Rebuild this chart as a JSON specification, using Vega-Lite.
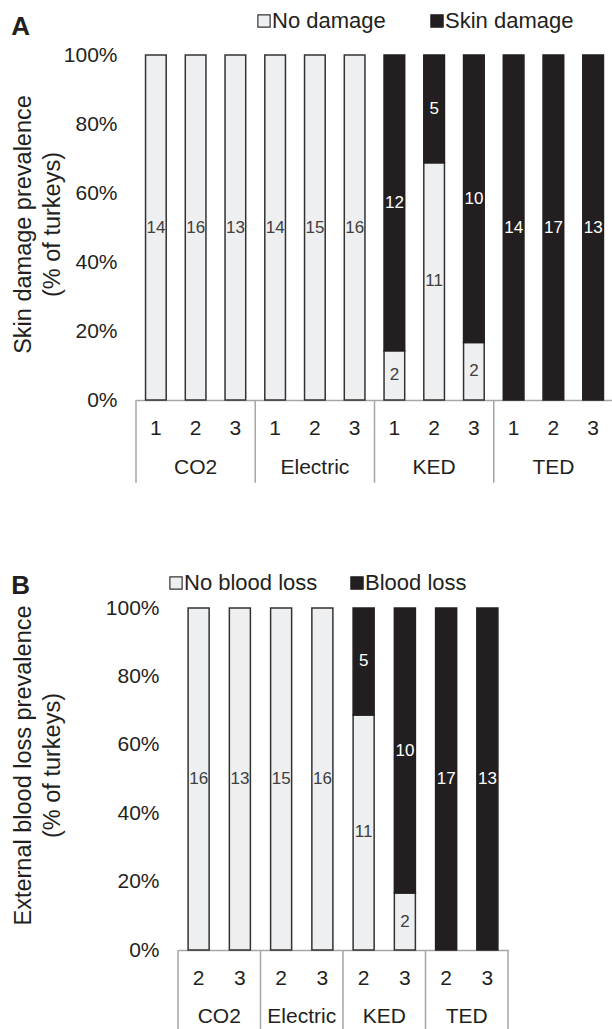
{
  "$schema": "https://vega.github.io/schema/vega-lite/v6.json",
  "padding": {"left": 11, "top": 10, "right": 0, "bottom": 0},
  "background": "white",
  "config": {
    "font": "Liberation Sans",
    "view": {"stroke": null},
    "axis": {"labelColor": "#231f20", "titleColor": "#231f20", "labelFont": "Liberation Sans", "titleFont": "Liberation Sans", "titleFontWeight": "normal"},
    "legend": {"labelColor": "#231f20", "labelFont": "Liberation Sans"},
    "title": {"color": "#231f20", "font": "Liberation Sans"}
  },
  "resolve": {"scale": {"fill": "independent", "stroke": "independent"}, "legend": {"fill": "independent", "stroke": "independent"}},
  "spacing": 88,
  "vconcat": [
    {
      "title": {"text": "A", "anchor": "start", "frame": "bounds", "fontSize": 26, "fontWeight": "bold", "offset": -30},
      "width": 477,
      "height": 345,
      "layer": [
        {
          "data": {"values": [
            {"k": "CO2-1", "s": "No damage", "n": 14},
            {"k": "CO2-2", "s": "No damage", "n": 16},
            {"k": "CO2-3", "s": "No damage", "n": 13},
            {"k": "Electric-1", "s": "No damage", "n": 14},
            {"k": "Electric-2", "s": "No damage", "n": 15},
            {"k": "Electric-3", "s": "No damage", "n": 16},
            {"k": "KED-1", "s": "No damage", "n": 2},
            {"k": "KED-1", "s": "Skin damage", "n": 12},
            {"k": "KED-2", "s": "No damage", "n": 11},
            {"k": "KED-2", "s": "Skin damage", "n": 5},
            {"k": "KED-3", "s": "No damage", "n": 2},
            {"k": "KED-3", "s": "Skin damage", "n": 10},
            {"k": "TED-1", "s": "Skin damage", "n": 14},
            {"k": "TED-2", "s": "Skin damage", "n": 17},
            {"k": "TED-3", "s": "Skin damage", "n": 13}
          ]},
          "layer": [
            {
              "mark": {"type": "bar", "width": {"band": 0.52}, "strokeWidth": 1.5},
              "encoding": {
                "x": {"field": "k", "type": "nominal", "sort": ["CO2-1","CO2-2","CO2-3","Electric-1","Electric-2","Electric-3","KED-1","KED-2","KED-3","TED-1","TED-2","TED-3"],
                  "scale": {"paddingInner": 0, "paddingOuter": 0},
                  "axis": {"title": null, "ticks": false, "domainColor": "#a6a6a6", "domainWidth": 1.5, "labelAngle": 0, "labelFontSize": 21, "labelPadding": 17, "labelExpr": "split(datum.label, '-')[1]"}},
                "y": {"field": "n", "type": "quantitative", "stack": "normalize", "scale": {"domain": [0, 1]},
                  "axis": {"values": [0, 0.2, 0.4, 0.6, 0.8, 1], "format": ".0%", "domain": false, "ticks": false, "grid": false, "labelFontSize": 21, "labelPadding": 19,
                    "title": ["Skin damage prevalence", "(% of turkeys)"], "titleFontSize": 23.5, "titlePadding": -1, "titleLineHeight": 29, "titleY": 169}},
                "order": {"field": "s", "sort": "ascending"},
                "fill": {"field": "s", "type": "nominal", "scale": {"domain": ["No damage", "Skin damage"], "range": ["#eeeff1", "#231f20"]},
                  "legend": {"orient": "none", "legendX": 117, "legendY": -45, "direction": "horizontal", "gridAlign": "none", "title": null, "symbolType": "square", "symbolSize": 150, "symbolStrokeColor": "#333333", "symbolStrokeWidth": 1.2, "labelFontSize": 22, "labelOffset": -3, "columnPadding": 40}},
                "stroke": {"field": "s", "type": "nominal", "scale": {"domain": ["No damage", "Skin damage"], "range": ["#333333", "#231f20"]}, "legend": null}
              }
            },
            {
              "mark": {"type": "text", "fontSize": 17, "baseline": "middle"},
              "encoding": {
                "x": {"field": "k", "type": "nominal", "sort": ["CO2-1","CO2-2","CO2-3","Electric-1","Electric-2","Electric-3","KED-1","KED-2","KED-3","TED-1","TED-2","TED-3"]},
                "y": {"field": "n", "type": "quantitative", "stack": "normalize", "bandPosition": 0.5},
                "order": {"field": "s", "sort": "ascending"},
                "detail": {"field": "s"},
                "text": {"field": "n"},
                "color": {"condition": {"test": "datum.s === 'No damage'", "value": "#404040"}, "value": "white"}
              }
            }
          ]
        },
        {
          "data": {"values": [{"k": "CO2-1"}, {"k": "Electric-1"}, {"k": "KED-1"}, {"k": "TED-1"}]},
          "mark": {"type": "rule", "color": "#a6a6a6", "strokeWidth": 1.5},
          "encoding": {
            "x": {"field": "k", "type": "nominal", "sort": ["CO2-1","CO2-2","CO2-3","Electric-1","Electric-2","Electric-3","KED-1","KED-2","KED-3","TED-1","TED-2","TED-3"], "bandPosition": 0},
            "y": {"datum": 0},
            "y2": {"datum": -0.24}
          }
        },
        {
          "data": {"values": [{"k": "CO2-2", "g": "CO2"}, {"k": "Electric-2", "g": "Electric"}, {"k": "KED-2", "g": "KED"}, {"k": "TED-2", "g": "TED"}]},
          "mark": {"type": "text", "fontSize": 21, "baseline": "middle", "color": "#231f20"},
          "encoding": {
            "x": {"field": "k", "type": "nominal", "sort": ["CO2-1","CO2-2","CO2-3","Electric-1","Electric-2","Electric-3","KED-1","KED-2","KED-3","TED-1","TED-2","TED-3"]},
            "y": {"datum": -0.196},
            "text": {"field": "g"}
          }
        }
      ]
    },
    {
      "title": {"text": "B", "anchor": "start", "frame": "bounds", "fontSize": 26, "fontWeight": "bold", "offset": -27},
      "width": 372,
      "height": 342,
      "layer": [
        {
          "data": {"values": [
            {"k": "CO2-2", "s": "No blood loss", "n": 16},
            {"k": "CO2-3", "s": "No blood loss", "n": 13},
            {"k": "Electric-2", "s": "No blood loss", "n": 15},
            {"k": "Electric-3", "s": "No blood loss", "n": 16},
            {"k": "KED-2", "s": "No blood loss", "n": 11},
            {"k": "KED-2", "s": "Blood loss", "n": 5},
            {"k": "KED-3", "s": "No blood loss", "n": 2},
            {"k": "KED-3", "s": "Blood loss", "n": 10},
            {"k": "TED-2", "s": "Blood loss", "n": 17},
            {"k": "TED-3", "s": "Blood loss", "n": 13}
          ]},
          "layer": [
            {
              "mark": {"type": "bar", "width": {"band": 0.51}, "strokeWidth": 1.5},
              "encoding": {
                "x": {"field": "k", "type": "nominal", "sort": ["CO2-2","CO2-3","Electric-2","Electric-3","KED-2","KED-3","TED-2","TED-3"],
                  "scale": {"paddingInner": 0, "paddingOuter": 0, "range": [42, 372]},
                  "axis": {"title": null, "ticks": false, "domainColor": "#a6a6a6", "domainWidth": 1.5, "labelAngle": 0, "labelFontSize": 21, "labelPadding": 17, "labelExpr": "split(datum.label, '-')[1]"}},
                "y": {"field": "n", "type": "quantitative", "stack": "normalize", "scale": {"domain": [0, 1]},
                  "axis": {"values": [0, 0.2, 0.4, 0.6, 0.8, 1], "format": ".0%", "domain": false, "ticks": false, "grid": false, "labelFontSize": 21, "labelPadding": 19, "offset": -42,
                    "title": ["External blood loss prevalence", "(% of turkeys)"], "titleFontSize": 23.5, "titlePadding": 41, "titleLineHeight": 29, "titleY": 157}},
                "order": {"field": "s", "sort": "descending"},
                "fill": {"field": "s", "type": "nominal", "scale": {"domain": ["No blood loss", "Blood loss"], "range": ["#eeeff1", "#231f20"]},
                  "legend": {"orient": "none", "legendX": 29, "legendY": -36, "direction": "horizontal", "gridAlign": "none", "title": null, "symbolType": "square", "symbolSize": 150, "symbolStrokeColor": "#333333", "symbolStrokeWidth": 1.2, "labelFontSize": 22, "labelOffset": -3, "columnPadding": 28}},
                "stroke": {"field": "s", "type": "nominal", "scale": {"domain": ["No blood loss", "Blood loss"], "range": ["#333333", "#231f20"]}, "legend": null}
              }
            },
            {
              "mark": {"type": "text", "fontSize": 17, "baseline": "middle"},
              "encoding": {
                "x": {"field": "k", "type": "nominal", "sort": ["CO2-2","CO2-3","Electric-2","Electric-3","KED-2","KED-3","TED-2","TED-3"]},
                "y": {"field": "n", "type": "quantitative", "stack": "normalize", "bandPosition": 0.5},
                "order": {"field": "s", "sort": "descending"},
                "detail": {"field": "s"},
                "text": {"field": "n"},
                "color": {"condition": {"test": "datum.s === 'No blood loss'", "value": "#404040"}, "value": "white"}
              }
            }
          ]
        },
        {
          "data": {"values": [{"k": "CO2-2"}, {"k": "Electric-2"}, {"k": "KED-2"}, {"k": "TED-2"}]},
          "mark": {"type": "rule", "color": "#a6a6a6", "strokeWidth": 1.5},
          "encoding": {
            "x": {"field": "k", "type": "nominal", "sort": ["CO2-2","CO2-3","Electric-2","Electric-3","KED-2","KED-3","TED-2","TED-3"], "bandPosition": 0},
            "y": {"datum": 0},
            "y2": {"datum": -0.233}
          }
        },
        {
          "data": {"values": [{"k": "TED-3"}]},
          "mark": {"type": "rule", "color": "#a6a6a6", "strokeWidth": 1.5},
          "encoding": {
            "x": {"field": "k", "type": "nominal", "sort": ["CO2-2","CO2-3","Electric-2","Electric-3","KED-2","KED-3","TED-2","TED-3"], "bandPosition": 1},
            "y": {"datum": 0},
            "y2": {"datum": -0.233}
          }
        },
        {
          "data": {"values": [{"k": "CO2-2", "g": "CO2"}, {"k": "Electric-2", "g": "Electric"}, {"k": "KED-2", "g": "KED"}, {"k": "TED-2", "g": "TED"}]},
          "mark": {"type": "text", "fontSize": 21, "baseline": "middle", "color": "#231f20"},
          "encoding": {
            "x": {"field": "k", "type": "nominal", "sort": ["CO2-2","CO2-3","Electric-2","Electric-3","KED-2","KED-3","TED-2","TED-3"], "bandPosition": 1},
            "y": {"datum": -0.196},
            "text": {"field": "g"}
          }
        }
      ]
    }
  ]
}
